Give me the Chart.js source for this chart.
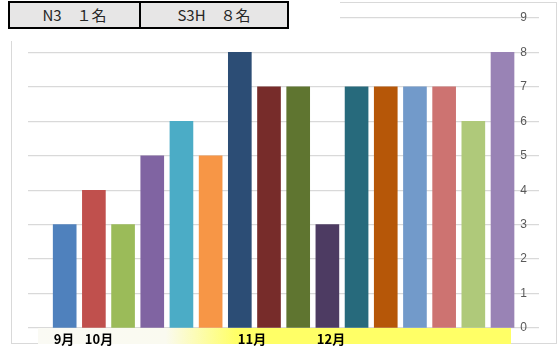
<!DOCTYPE html>
<html>
<head>
<meta charset="utf-8">
<script src="https://cdn.jsdelivr.net/npm/chart.js@4"></script>
<style>
  html, body { margin: 0; padding: 0; background: #fff; }
  #wrap { position: relative; width: 560px; height: 347px; overflow: hidden; }
  #frame { position: absolute; left: 11px; top: 2px; width: 544px; height: 340px; border: 1px solid #d9d9d9; }
  #chart { position: absolute; left: 0; top: 0; }
  #cover { position: absolute; left: 0; top: 0; width: 340px; height: 41px; background: #fff; }
  #table { position: absolute; left: 8px; top: 1px; border-collapse: collapse; }
  #table td { border: 2px solid #000; background: #e7e6e6; height: 24px; padding: 0; text-align: center;
    font-family: "Noto Sans CJK JP", sans-serif; font-size: 15px; color: #262626; line-height: 24px; }
  #band { position: absolute; left: 38px; top: 328px; width: 473px; height: 16px;
    background: linear-gradient(to right, #fafaf4 0%, #fafaf0 27%, #ffff66 42%, #ffff66 100%); }
  .month { position: absolute; top: 331px; font-family: "Noto Sans CJK JP", sans-serif; font-weight: bold;
    font-size: 13px; line-height: 15px; color: #000; transform: translateX(-50%); white-space: nowrap; }
</style>
</head>
<body>
<div id="wrap">
  <div id="frame"></div>
  <canvas id="chart" width="560" height="347"></canvas>
  <div id="cover"></div>
  <table id="table">
    <tr><td style="width:129px">N3　１名</td><td style="width:146px">S3H　８名</td></tr>
  </table>
  <div id="band"></div>
  <div id="months"></div>
</div>
<script>
// 막대 값 (왼쪽부터)
const values = [3, 4, 3, 5, 6, 5, 8, 7, 7, 3, 7, 7, 7, 7, 6, 8];
const barColors = [
  '#4f81bd', '#c0504d', '#9bbb59', '#8064a2', '#4bacc6', '#f79646',
  '#2c4d75', '#772c2a', '#5f7530', '#4d3b62', '#276a7c', '#b65708',
  '#729aca', '#cd7371', '#afc97a', '#9983b5'
];
const yTicks = [0, 1, 2, 3, 4, 5, 6, 7, 8, 9];
const months = ['9月', '10月', '11月', '12月'];
const monthX = [64, 99, 252, 331];

// 월 라벨
const monthBox = document.getElementById('months');
months.forEach((m, i) => {
  const s = document.createElement('div');
  s.className = 'month';
  s.style.left = monthX[i] + 'px';
  s.textContent = m;
  monthBox.appendChild(s);
});

const ctx = document.getElementById('chart').getContext('2d');
const chart = new Chart(ctx, {
  type: 'bar',
  data: {
    datasets: [{
      data: values.map((v, i) => ({ x: i + 1, y: v })),
      backgroundColor: barColors,
      borderWidth: 0,
      barThickness: 23
    }]
  },
  options: {
    responsive: false,
    animation: false,
    layout: { padding: { left: 28, right: 21, top: 18, bottom: 19 } },
    plugins: { legend: { display: false }, tooltip: { enabled: false } },
    scales: {
      x: {
        type: 'linear',
        display: false,
        offset: false,
        min: -0.257,
        max: 17.25
      },
      y: {
        position: 'right',
        min: 0,
        max: 9,
        afterFit: (s) => { s.width = 0; },
        afterBuildTicks: (s) => { s.ticks = yTicks.map(v => ({ value: v })); },
        border: { display: false },
        grid: { color: '#d9d9d9', lineWidth: 1.3, drawTicks: false },
        ticks: {
          mirror: true,
          padding: -12,
          color: '#595959',
          font: { family: 'Liberation Sans', size: 12 }
        }
      }
    }
  }
});
</script>
</body>
</html>
